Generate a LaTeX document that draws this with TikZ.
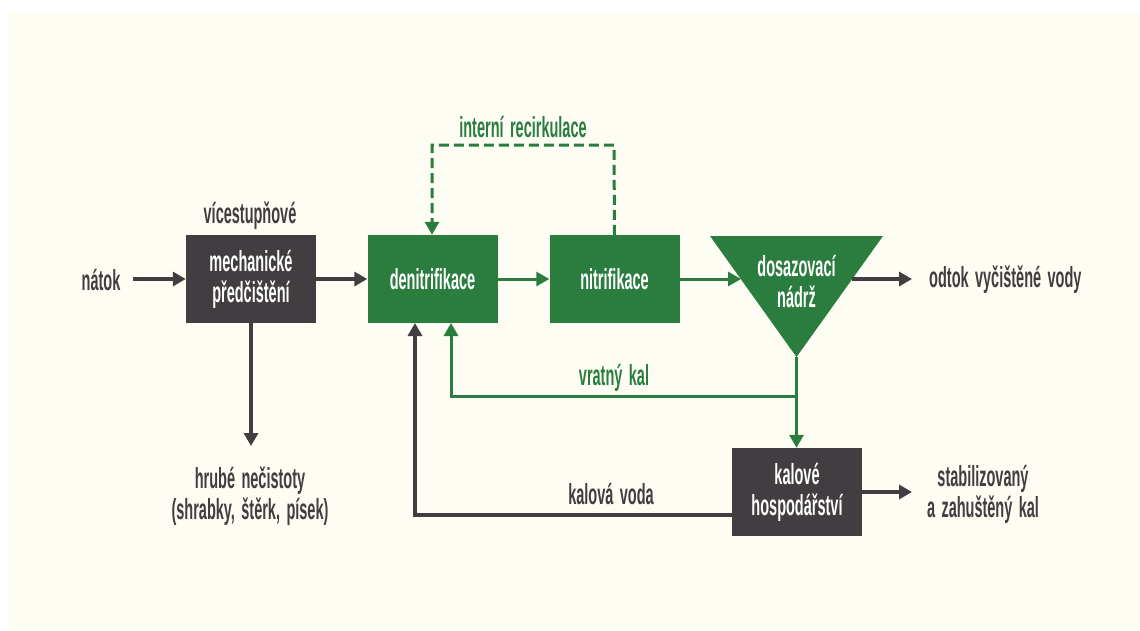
\documentclass[tikz,border=0pt]{standalone}
\usepackage{fontspec}
\setmainfont[FakeStretch=0.5,WordSpace=1.6,BoldFont={Liberation Sans Bold},BoldFeatures={FakeStretch=0.5,WordSpace=1.6}]{Liberation Sans}
\usetikzlibrary{arrows.meta}
\definecolor{dk}{HTML}{413D40}
\definecolor{gr}{HTML}{2B7D3F}
\definecolor{cream}{HTML}{FDFDF3}
\begin{document}
\begin{tikzpicture}[x=1pt,y=-1pt,
  font=\fontsize{29}{31}\selectfont\bfseries,
  box/.style={minimum width=130pt,minimum height=88pt,inner sep=0pt,text=white,align=center},
  dkbox/.style={box,fill=dk},
  grbox/.style={box,fill=gr},
  lbl/.style={inner sep=0pt,align=center},
  dkarr/.style={draw=dk,line width=3.5pt,-{Triangle[length=13pt,width=14pt]}},
  grarr/.style={draw=gr,line width=3pt,-{Triangle[length=13pt,width=14pt]}},
  grline/.style={draw=gr,line width=3pt},
  dkline/.style={draw=dk,line width=3.5pt}]
\useasboundingbox (0,0) rectangle (1140,630);
\fill[white] (0,0) rectangle (1140,630);
\fill[cream] (9,12) rectangle (1140,630);

% boxes
\node[dkbox] (mech) at (251,279) {mechanické\\předčištění};
\node[grbox] (denit) at (432.5,279) {denitrifikace};
\node[grbox] (nitr) at (614.5,279) {nitrifikace};
\node[dkbox] (kal) at (797,492) {kalové\\hospodářství};

% settling tank triangle
\coordinate (tl) at (710,236);
\coordinate (tr) at (883,236);
\coordinate (apex) at (796.5,357);
\fill[gr] (tl) -- (tr) -- (apex) -- cycle;
\node[lbl,text=white] (dos) at (796.5,281) {dosazovací\\nádrž};
\coordinate (tin) at (741,279);
\coordinate (tout) at (852,279);

% labels
\node[lbl,text=dk] (natok) at (101,280) {nátok};
\node[lbl,text=dk] (vice) at (250,216) {vícestupňové};
\node[lbl,text=dk] (hrube) at (250,496) {hrubé nečistoty\\(shrabky, štěrk, písek)};
\node[lbl,text=dk,anchor=west] (odtok) at (929,280) {odtok vyčištěné vody};
\node[lbl,text=dk] (stab) at (983,494) {stabilizovaný\\a zahuštěný kal};
\node[lbl,text=gr] (intr) at (523,127) {interní recirkulace};
\node[lbl,text=gr] (vrat) at (614,378) {vratný kal};
\node[lbl,text=dk] (kvoda) at (611,494) {kalová voda};

% main flow
\coordinate (nstart) at (133,279);
\draw[dkarr] (nstart) -- (mech.west);
\draw[dkarr] (mech.east) -- (denit.west);
\draw[grarr] (denit.east) -- (nitr.west);
\draw[grarr] (nitr.east) -- (tin);
\draw[dkarr] (tout) -- (tout -| 912,0);
\draw[dkarr] (mech.south) -- (mech.south |- 0,446);
\draw[dkarr] (kal.east |- 0,492) -- (912,492);

% internal recirculation (dashed)
\draw[grarr,dash pattern=on 10pt off 5pt] (nitr.north) -- (614,145) -- (432,145) -- (denit.north -| 432,0);

% return sludge
\coordinate (vj) at (796.5,396);
\draw[grline] (apex) -- (vj);
\draw[grarr] (vj) -- (451,396) -- (451,323);
\draw[grarr] (vj) -- (kal.north -| vj);

% sludge water
\draw[dkarr] (kal.west |- 0,515) -- (415,515) -- (415,323);
\end{tikzpicture}
\end{document}
